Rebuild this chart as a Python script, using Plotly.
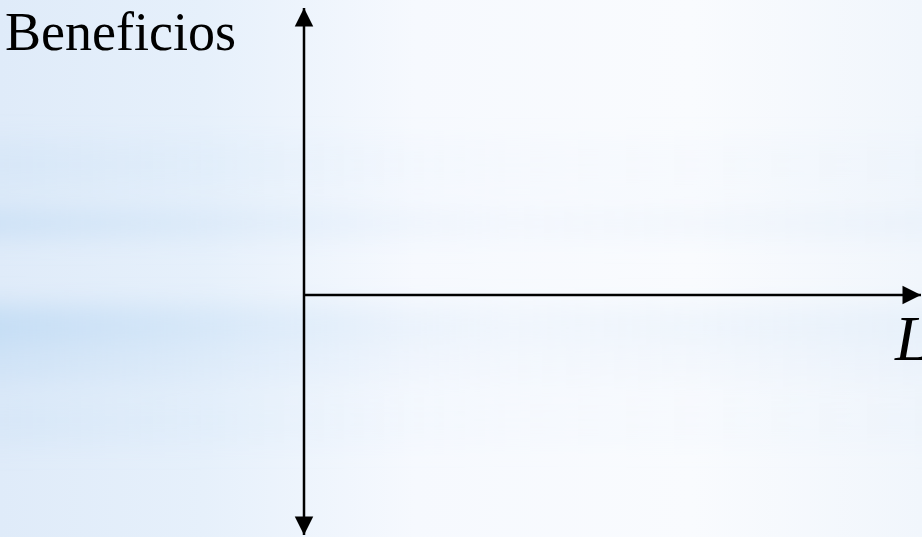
import base64
import plotly.graph_objects as go

# ---- data (pixel-like units, origin at the axes crossing) ----
x_axis_start = [0, 0]
x_axis_end = [617, 0]
y_axis_top = [0, 287]
y_axis_bottom = [0, -240]
x_range = [-304, 618]
y_range = [-242, 295]
y_label = "Beneficios"
x_label = "L"
y_label_pos = [-301, 295]
x_label_pos = [588, -44]

W, H = 922, 537

# ---- background (soft blue streaks, fading to white on the right) ----
bands = [  # (y, height, opacity)
    (140, 50, 0.25),
    (208, 30, 0.6),
    (305, 40, 0.85),
    (345, 40, 0.5),
    (395, 50, 0.25),
]
rects = "".join(
    f'<rect x="-50" y="{y}" width="{W + 100}" height="{h}" fill="url(#b)" opacity="{o}"/>'
    for y, h, o in bands
)
svg = f'''<svg xmlns="http://www.w3.org/2000/svg" width="{W}" height="{H}" viewBox="0 0 {W} {H}" preserveAspectRatio="none">
<defs>
<linearGradient id="g" x1="0" x2="1" y1="0" y2="0">
<stop offset="0" stop-color="#dfebf9"/>
<stop offset="0.22" stop-color="#e6f0fb"/>
<stop offset="0.45" stop-color="#f6f9fe"/>
<stop offset="0.75" stop-color="#f9fbfe"/>
<stop offset="1" stop-color="#f1f6fc"/>
</linearGradient>
<linearGradient id="b" x1="0" x2="1" y1="0" y2="0">
<stop offset="0" stop-color="#b9d7f3" stop-opacity="0.9"/>
<stop offset="0.3" stop-color="#c9e0f6" stop-opacity="0.5"/>
<stop offset="0.55" stop-color="#dceaf9" stop-opacity="0.3"/>
<stop offset="1" stop-color="#d6e6f7" stop-opacity="0.45"/>
</linearGradient>
<filter id="f" x="-0.1" y="-2" width="1.2" height="5"><feGaussianBlur stdDeviation="3 12"/></filter>
</defs>
<rect width="{W}" height="{H}" fill="url(#g)"/>
<g filter="url(#f)">{rects}</g>
</svg>'''
src = "data:image/svg+xml;base64," + base64.b64encode(svg.encode()).decode()

fig = go.Figure()
fig.add_trace(go.Scatter(x=[x_axis_start[0], x_axis_end[0]], y=[x_axis_start[1], x_axis_end[1]],
                         mode="lines", line=dict(color="black", width=2.5), hoverinfo="skip"))
fig.add_trace(go.Scatter(x=[y_axis_bottom[0], y_axis_top[0]], y=[y_axis_bottom[1], y_axis_top[1]],
                         mode="lines", line=dict(color="black", width=2.5), hoverinfo="skip"))

arrow_common = dict(xref="x", yref="y", axref="x", ayref="y", text="", showarrow=True,
                    arrowhead=2, arrowsize=1.85, arrowwidth=2, arrowcolor="black")
fig.add_annotation(x=x_axis_end[0], y=x_axis_end[1], ax=x_axis_end[0] - 60, ay=x_axis_end[1], **arrow_common)
fig.add_annotation(x=y_axis_top[0], y=y_axis_top[1], ax=y_axis_top[0], ay=y_axis_top[1] - 60, **arrow_common)
fig.add_annotation(x=y_axis_bottom[0], y=y_axis_bottom[1], ax=y_axis_bottom[0], ay=y_axis_bottom[1] + 60, **arrow_common)

serif = "Liberation Serif, Times New Roman, serif"
fig.add_annotation(x=y_label_pos[0], y=y_label_pos[1], xref="x", yref="y", text=y_label,
                   showarrow=False, xanchor="left", yanchor="top",
                   font=dict(family=serif, size=54, color="black"))
fig.add_annotation(x=x_label_pos[0], y=x_label_pos[1], xref="x", yref="y", text=f"<i>{x_label}</i>",
                   showarrow=False, xanchor="left", yanchor="middle",
                   font=dict(family=serif, size=63, color="black"))

fig.add_layout_image(dict(source=src, xref="paper", yref="paper", x=0, y=1, sizex=1, sizey=1,
                          sizing="stretch", layer="below", xanchor="left", yanchor="top"))

fig.update_layout(
    width=W, height=H, margin=dict(l=0, r=0, t=0, b=0),
    paper_bgcolor="white", plot_bgcolor="rgba(0,0,0,0)", showlegend=False,
    xaxis=dict(range=x_range, visible=False, fixedrange=True),
    yaxis=dict(range=y_range, visible=False, fixedrange=True),
)

fig.write_html("out.html", config={"displayModeBar": False},
               post_script="document.body.style.margin='0';document.body.style.overflow='hidden';")
